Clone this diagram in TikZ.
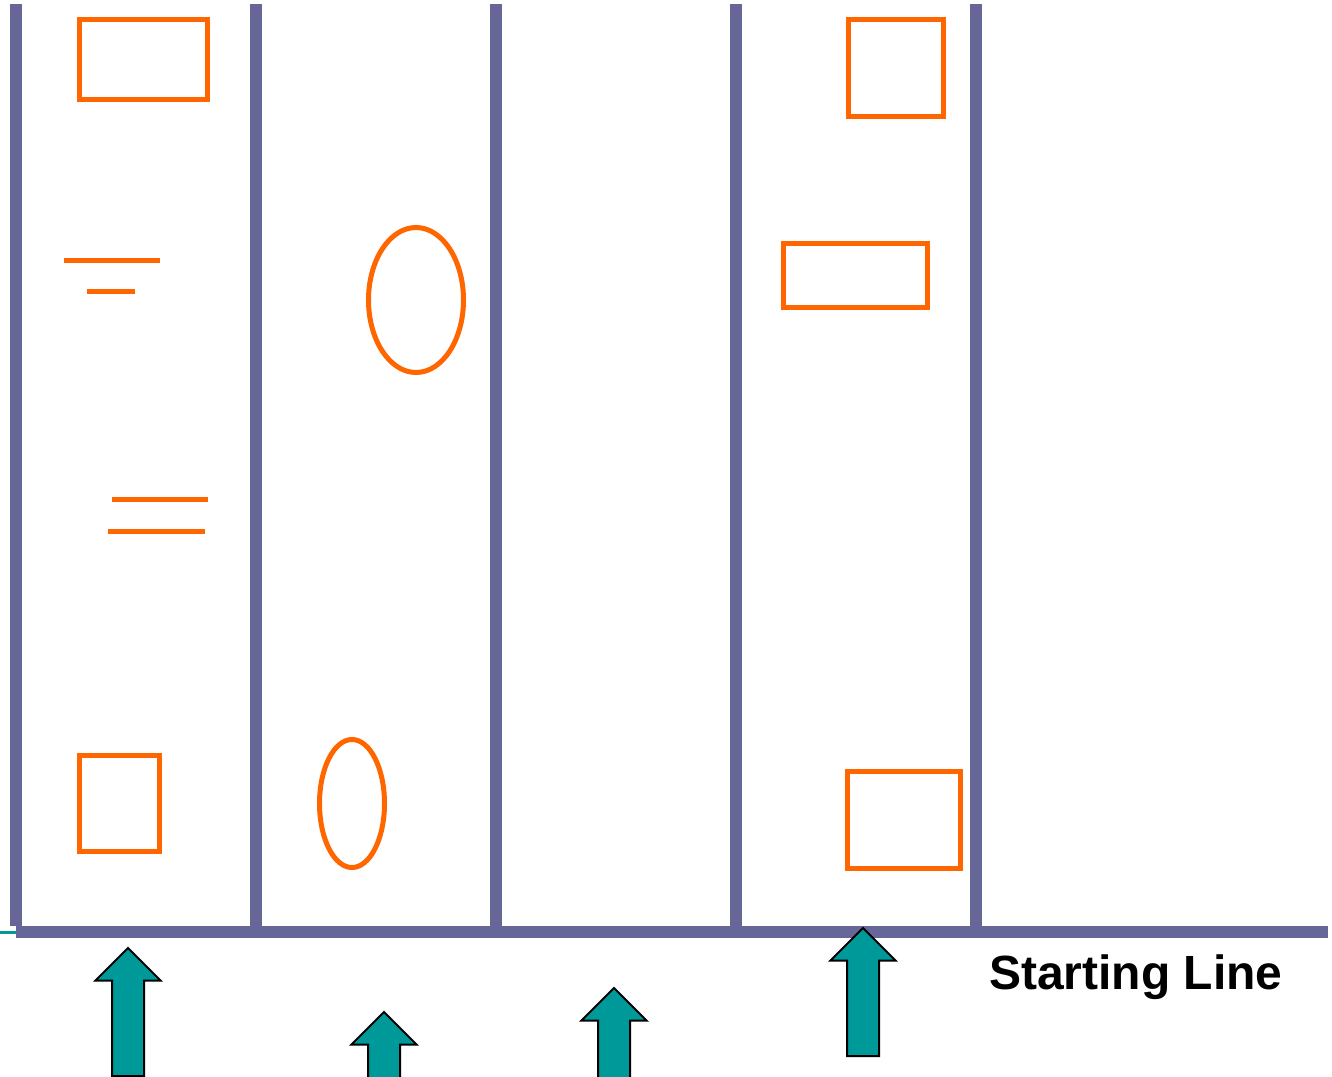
\documentclass[tikz,border=0pt]{standalone}
\usepackage{fontspec}
\setmainfont{Liberation Sans}
\definecolor{lanec}{HTML}{666699}
\definecolor{shapec}{HTML}{FF6600}
\definecolor{arrowc}{HTML}{009999}
\tikzset{
  lane/.style={draw=lanec, line width=12pt, line cap=butt},
  obj/.style={draw=shapec, line width=5pt},
  uparrow/.style={draw=black, fill=arrowc, line width=2pt, line join=miter},
}
\begin{document}
\begin{tikzpicture}[x=1pt,y=-1pt]
\useasboundingbox (0,0) rectangle (1332,1076);
\clip (0,0) rectangle (1332,1076);
% lanes
\foreach \lx in {16,256,496,736,976} {
  \draw[lane] (\lx,4) -- (\lx,926);
}
\coordinate (sl0) at (16,932);
\coordinate (sl1) at (1328,932);
\draw[lane] (sl0) -- (sl1);
\draw[draw=arrowc, line width=3pt] (0,932) -- (16,932);
% lane 1 objects
\draw[obj] (79.5,19.5) rectangle (207.5,99.5);
\draw[obj] (64,260) -- (160,260);
\draw[obj] (87,291.5) -- (135,291.5);
\draw[obj] (112,499.5) -- (208,499.5);
\draw[obj] (108,531.5) -- (205,531.5);
\draw[obj] (79.5,755.5) rectangle (159.5,851.5);
% lane 2 objects
\draw[obj] (416,300) ellipse [x radius=47.5, y radius=72.5];
\draw[obj] (352,803.5) ellipse [x radius=32.5, y radius=64];
% lane 4 objects
\draw[obj] (848.5,19.5) rectangle (943.5,116.5);
\draw[obj] (783.5,243.5) rectangle (927.5,307.5);
\draw[obj] (847.5,771.5) rectangle (960.5,868.5);
% arrows
\foreach \ax/\ay in {128/948, 384/1012, 614/988, 863/928} {
  \draw[uparrow] (\ax,\ay) -- (\ax+32.5,\ay+32.5) -- (\ax+16,\ay+32.5) -- (\ax+16,\ay+128)
    -- (\ax-16,\ay+128) -- (\ax-16,\ay+32.5) -- (\ax-32.5,\ay+32.5) -- cycle;
}
% label
\node[anchor=base west, inner sep=0pt, font=\fontsize{48}{56}\selectfont\bfseries] (label) at (989,989) {Starting Line};
\end{tikzpicture}
\end{document}
